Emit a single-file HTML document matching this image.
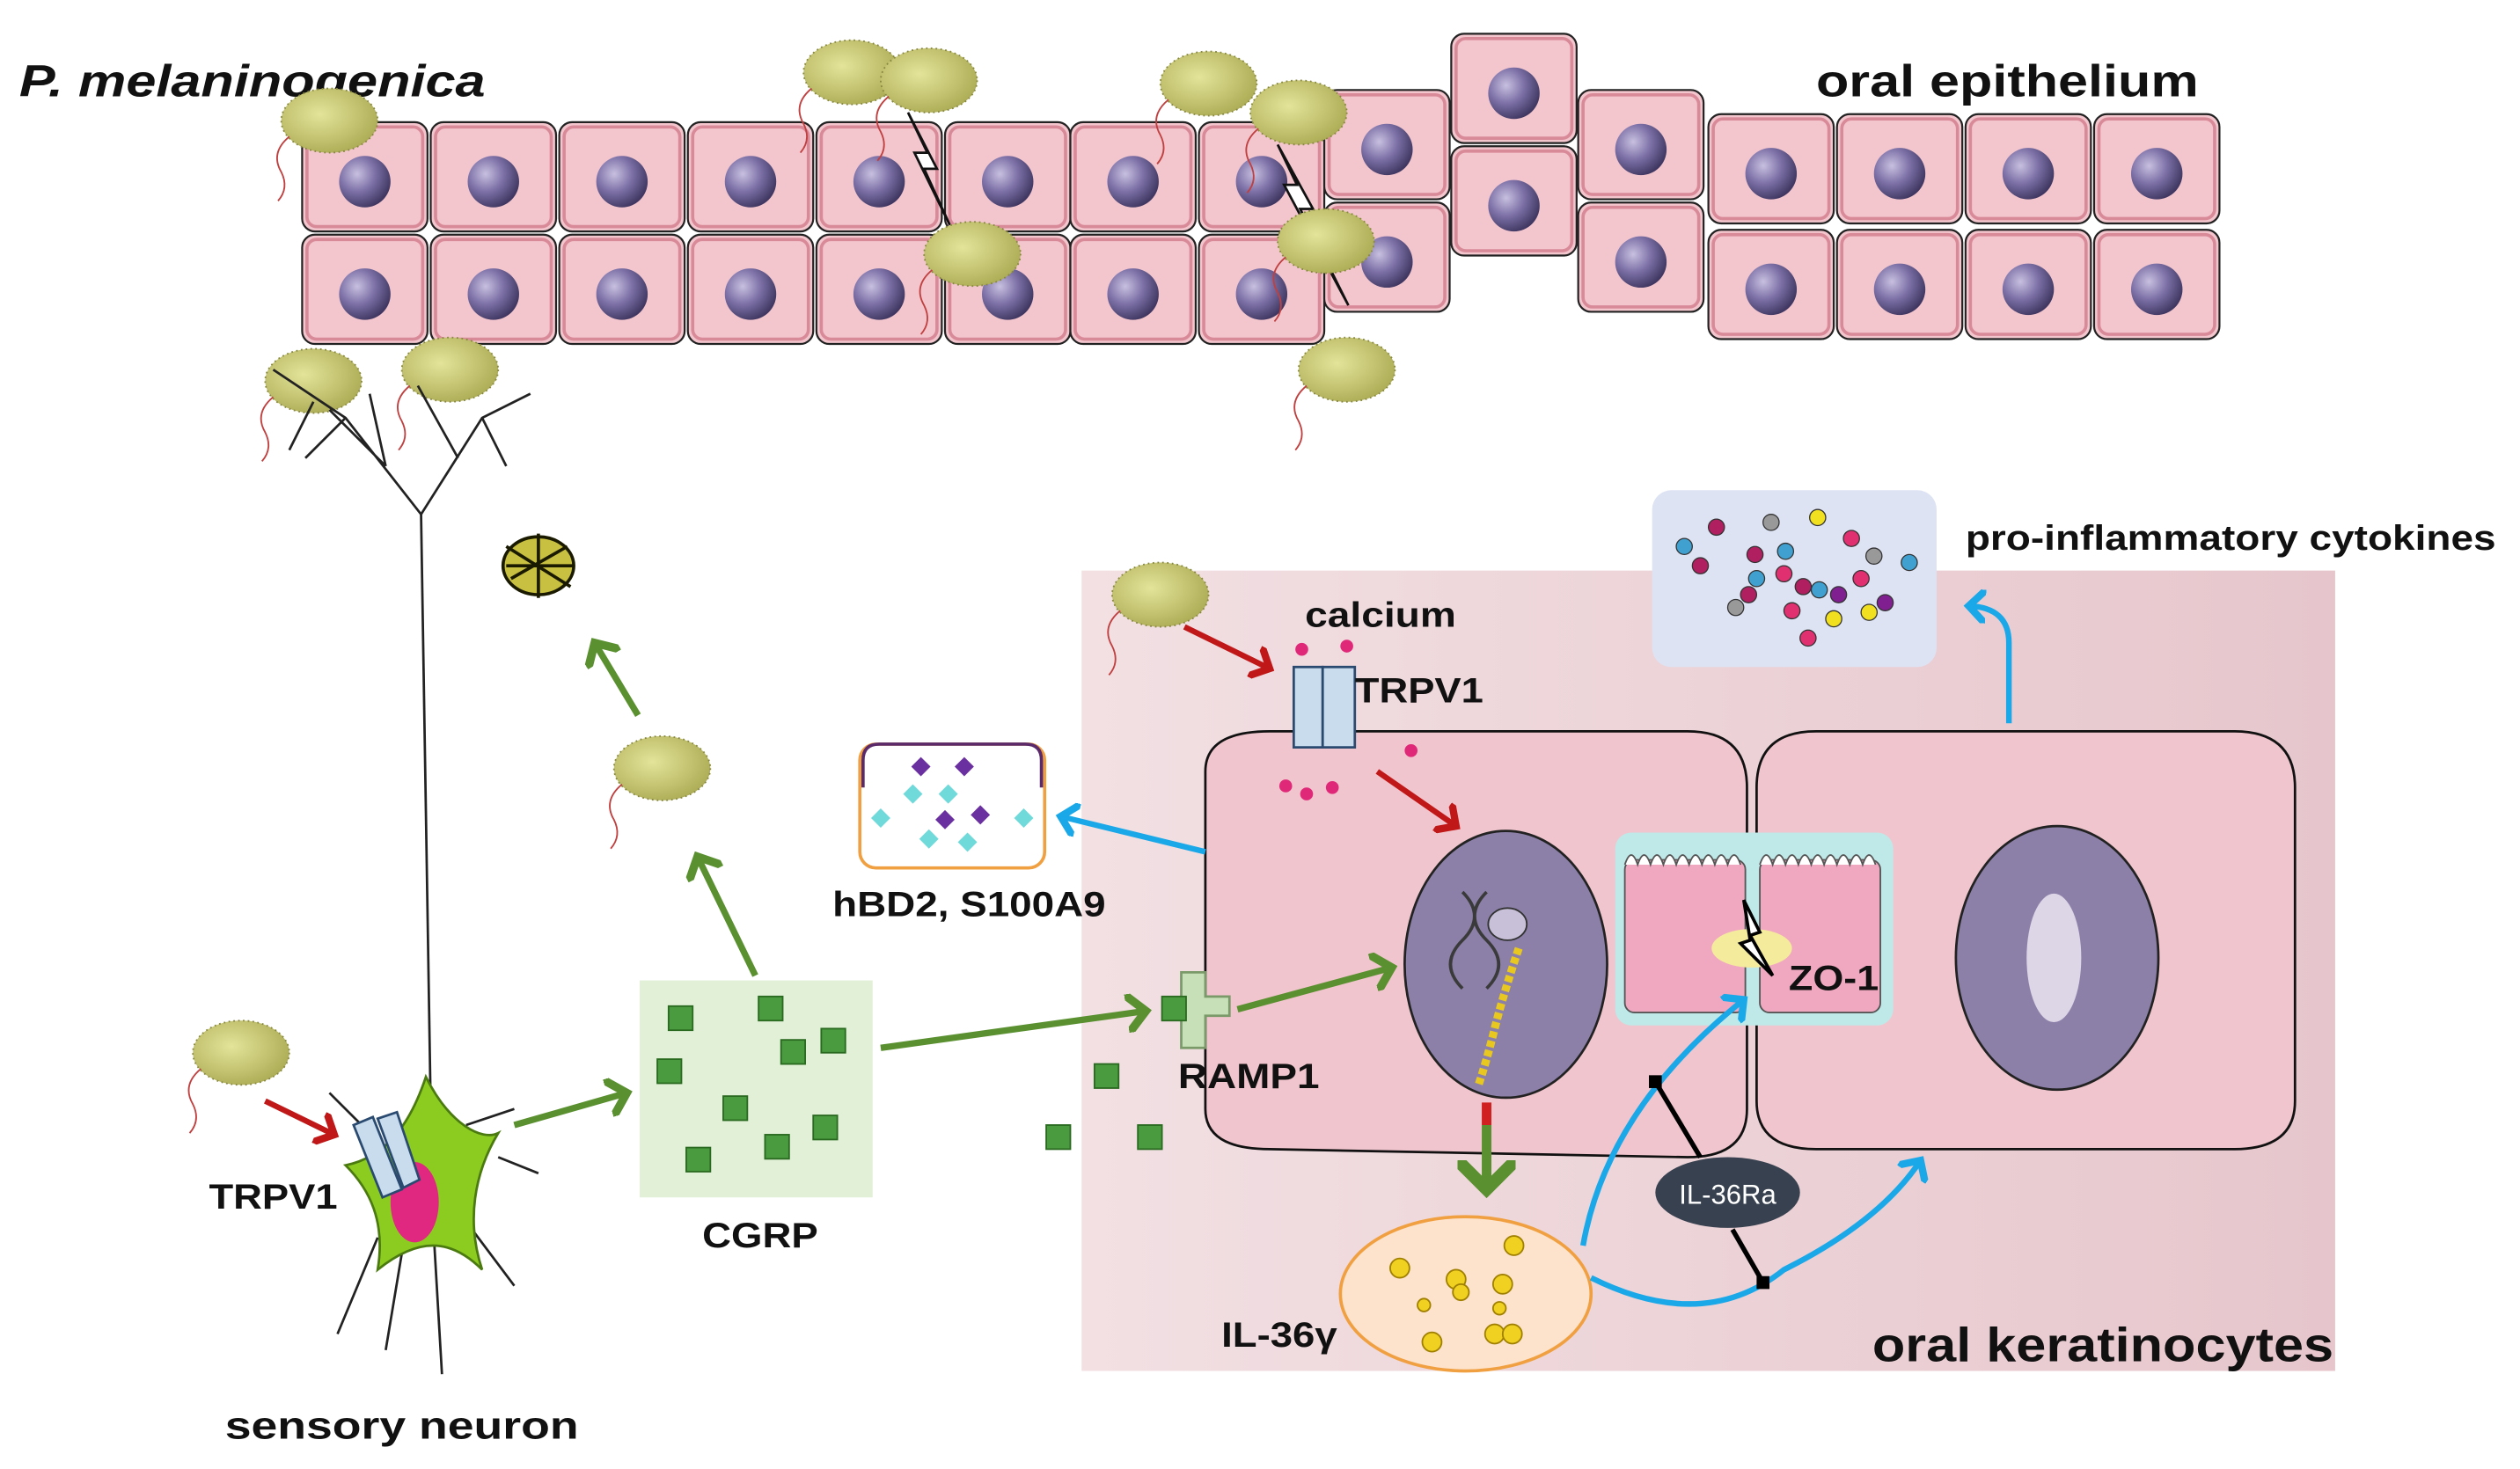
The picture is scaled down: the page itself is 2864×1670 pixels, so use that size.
<!DOCTYPE html>
<html><head><meta charset="utf-8"><style>
html,body{margin:0;padding:0;background:#fff;}
svg{display:block;}
text{font-family:"Liberation Sans",sans-serif;font-weight:bold;fill:#111;}
</style></head><body>
<svg width="2864" height="1670" viewBox="0 0 1568 914" preserveAspectRatio="none" xmlns="http://www.w3.org/2000/svg">
<defs>
<linearGradient id="bg" x1="0" x2="1" y1="0" y2="0"><stop offset="0" stop-color="#f2e0e3"/><stop offset="1" stop-color="#e6c6cc"/></linearGradient>
<radialGradient id="nuc" cx="0.35" cy="0.35" r="0.7"><stop offset="0" stop-color="#c8c0e0"/><stop offset="0.5" stop-color="#7c70a6"/><stop offset="1" stop-color="#3e3660"/></radialGradient>
<radialGradient id="bac" cx="0.4" cy="0.4" r="0.7"><stop offset="0" stop-color="#e4e49a"/><stop offset="1" stop-color="#a8a850"/></radialGradient>
<g id="cell"><rect x="1" y="1" width="78" height="68" rx="8" fill="#f3c6ce" stroke="#222" stroke-width="1.2"/><rect x="4" y="4" width="72" height="62" rx="6" fill="none" stroke="#d98a99" stroke-width="2"/><circle cx="40" cy="38" r="16" fill="url(#nuc)"/></g>
<g id="bact"><ellipse cx="0" cy="0" rx="30" ry="20" fill="url(#bac)" stroke="#888840" stroke-width="1" stroke-dasharray="1 2"/><path d="M-25 10 q-12 10 -5 22 q5 10 -2 18" fill="none" stroke="#c04040" stroke-width="1"/></g>
<g id="sq"><rect x="0" y="0" width="15" height="15" fill="#4a9a40" stroke="#2a6a20" stroke-width="1"/></g>
<marker id="ag" markerWidth="6" markerHeight="6" refX="3" refY="3" orient="auto" markerUnits="strokeWidth"><path d="M0,0 L3,3 L0,6" fill="none" stroke="#5a9030" stroke-width="1.3"/></marker>
<marker id="ar" markerWidth="6" markerHeight="6" refX="3" refY="3" orient="auto" markerUnits="strokeWidth"><path d="M0,0 L3,3 L0,6" fill="none" stroke="#c01818" stroke-width="1.3"/></marker>
<marker id="ab" markerWidth="6" markerHeight="6" refX="3" refY="3" orient="auto" markerUnits="strokeWidth"><path d="M0,0 L3,3 L0,6" fill="none" stroke="#1aa8e8" stroke-width="1.3"/></marker>
</defs>

<g>
<use href="#cell" x="187" y="75"/><use href="#cell" x="267" y="75"/><use href="#cell" x="347" y="75"/><use href="#cell" x="427" y="75"/><use href="#cell" x="507" y="75"/><use href="#cell" x="587" y="75"/><use href="#cell" x="665" y="75"/><use href="#cell" x="745" y="75"/>
<use href="#cell" x="187" y="145"/><use href="#cell" x="267" y="145"/><use href="#cell" x="347" y="145"/><use href="#cell" x="427" y="145"/><use href="#cell" x="507" y="145"/><use href="#cell" x="587" y="145"/><use href="#cell" x="665" y="145"/><use href="#cell" x="745" y="145"/>
<use href="#cell" x="823" y="55"/><use href="#cell" x="823" y="125"/>
<use href="#cell" x="902" y="20"/><use href="#cell" x="902" y="90"/>
<use href="#cell" x="981" y="55"/><use href="#cell" x="981" y="125"/>
<use href="#cell" x="1062" y="70"/><use href="#cell" x="1142" y="70"/><use href="#cell" x="1222" y="70"/><use href="#cell" x="1302" y="70"/>
<use href="#cell" x="1062" y="142"/><use href="#cell" x="1142" y="142"/><use href="#cell" x="1222" y="142"/><use href="#cell" x="1302" y="142"/>
</g>
<path d="M565 70 l12 25 l-8 0 l22 45 l-16 -35 l8 0 z" fill="#fff" stroke="#111" stroke-width="1.5"/>
<path d="M795 90 l12 25 l-8 0 l40 75 l-30 -60 l8 0 z" fill="#fff" stroke="#111" stroke-width="1.5"/>

<text x="12" y="60" font-size="28" font-style="italic" textLength="290" lengthAdjust="spacingAndGlyphs">P. melaninogenica</text>
<text x="1130" y="60" font-size="28" textLength="238" lengthAdjust="spacingAndGlyphs">oral epithelium</text>

<use href="#bact" x="205" y="75"/><use href="#bact" x="530" y="45"/><use href="#bact" x="578" y="50"/><use href="#bact" x="752" y="52"/><use href="#bact" x="808" y="70"/><use href="#bact" x="605" y="158"/><use href="#bact" x="825" y="150"/><use href="#bact" x="838" y="230"/><use href="#bact" x="195" y="237"/><use href="#bact" x="280" y="230"/><use href="#bact" x="412" y="478"/><use href="#bact" x="150" y="655"/>
<g stroke="#1a1a00" stroke-width="2"><ellipse cx="335" cy="352" rx="22" ry="18" fill="#c8c040"/><path d="M315 340 l40 25 M318 360 l35 -20 M335 332 l0 40 M315 352 l42 0"/></g>

<g fill="none" stroke="#222" stroke-width="1.5">
<path d="M262 320 L268 690"/>
<path d="M262 320 L215 260 L170 230 M215 260 L190 285 M240 290 L205 255 M262 320 L300 260 L330 245 M300 260 L315 290 M285 285 L260 240 M240 290 L230 245 M195 250 L180 280"/>
<path d="M235 770 L210 830 M250 780 L240 840 M270 770 L275 855 M290 760 L320 800 M225 700 L205 680 M290 700 L320 690 M310 720 L335 730"/>
</g>
<path d="M265 670 C280 700 300 710 310 705 C295 730 290 760 300 790 C280 770 260 770 235 790 C240 760 230 740 215 725 C240 720 255 700 265 670 Z" fill="#8ccc20" stroke="#4a7a10" stroke-width="1.5"/>
<ellipse cx="258" cy="748" rx="15" ry="25" fill="#e02880"/>
<g fill="#c8dcee" stroke="#2a4a70" stroke-width="1.5"><path d="M220 700 l12 -5 l18 45 l-12 5 z"/><path d="M235 696 l12 -4 l14 42 l-10 5 z"/></g>

<rect x="673" y="355" width="780" height="498" fill="url(#bg)"/>
<use href="#bact" x="722" y="370"/>
<path d="M750 480 Q750 455 790 455 L1050 455 Q1087 455 1087 490 L1087 690 Q1087 720 1050 720 L790 715 Q750 715 750 690 Z" fill="#f1c5cd" stroke="#111" stroke-width="1.5"/>
<path d="M1093 490 Q1093 455 1130 455 L1390 455 Q1428 455 1428 490 L1428 685 Q1428 715 1390 715 L1130 715 Q1093 715 1093 685 Z" fill="#f1c5cd" stroke="#111" stroke-width="1.5"/>
<ellipse cx="937" cy="600" rx="63" ry="83" fill="#8c80a8" stroke="#222" stroke-width="1.5"/>
<ellipse cx="1280" cy="596" rx="63" ry="82" fill="#8c80a8" stroke="#222" stroke-width="1.5"/>
<ellipse cx="1278" cy="596" rx="17" ry="40" fill="#ddd6e6"/>
<path d="M910 555 q15 15 0 30 q-15 15 0 30 M925 555 q-15 15 0 30 q15 15 0 30" fill="none" stroke="#3a3a3a" stroke-width="2"/>
<ellipse cx="938" cy="575" rx="12" ry="10" fill="#c8c0d8" stroke="#333"/>
<path d="M945 590 q-10 30 -15 50 q-5 20 -10 35" fill="none" stroke="#e8c820" stroke-width="5" stroke-dasharray="4 2"/>

<rect x="1005" y="518" width="173" height="120" rx="10" fill="#bfe8e8"/>
<rect x="1011" y="535" width="75" height="95" rx="6" fill="#f0a8c0" stroke="#555"/>
<rect x="1095" y="535" width="75" height="95" rx="6" fill="#f0a8c0" stroke="#555"/>
<path d="M1011 538 q4 -12 8 0 q4 -12 8 0 q4 -12 8 0 q4 -12 8 0 q4 -12 8 0 q4 -12 8 0 q4 -12 8 0 q4 -12 8 0 q4 -12 8 0 M1095 538 q4 -12 8 0 q4 -12 8 0 q4 -12 8 0 q4 -12 8 0 q4 -12 8 0 q4 -12 8 0 q4 -12 8 0 q4 -12 8 0 q4 -12 8 0" fill="#fff" stroke="#555"/>
<ellipse cx="1090" cy="590" rx="25" ry="12" fill="#f4ec9c"/>
<path d="M1085 560 l10 20 l-6 2 l14 25 l-20 -20 l6 -2 z" fill="#fff" stroke="#000" stroke-width="2"/>
<text x="1113" y="616" font-size="22" textLength="56" lengthAdjust="spacingAndGlyphs">ZO-1</text>

<rect x="1028" y="305" width="177" height="110" rx="12" fill="#dde3f3"/>
<g stroke="#333" stroke-width="0.7">
<circle cx="1048" cy="340" r="5" fill="#40a0d0"/><circle cx="1068" cy="328" r="5" fill="#b02060"/><circle cx="1058" cy="352" r="5" fill="#b02060"/><circle cx="1102" cy="325" r="5" fill="#999"/><circle cx="1131" cy="322" r="5" fill="#f0e020"/><circle cx="1092" cy="345" r="5" fill="#b02060"/><circle cx="1111" cy="343" r="5" fill="#40a0d0"/><circle cx="1152" cy="335" r="5" fill="#e03070"/><circle cx="1166" cy="346" r="5" fill="#999"/><circle cx="1188" cy="350" r="5" fill="#40a0d0"/><circle cx="1093" cy="360" r="5" fill="#40a0d0"/><circle cx="1110" cy="357" r="5" fill="#e03070"/><circle cx="1132" cy="367" r="5" fill="#40a0d0"/><circle cx="1144" cy="370" r="5" fill="#802090"/><circle cx="1158" cy="360" r="5" fill="#e03070"/><circle cx="1173" cy="375" r="5" fill="#802090"/><circle cx="1088" cy="370" r="5" fill="#b02060"/><circle cx="1080" cy="378" r="5" fill="#999"/><circle cx="1115" cy="380" r="5" fill="#e03070"/><circle cx="1141" cy="385" r="5" fill="#f0e020"/><circle cx="1163" cy="381" r="5" fill="#f0e020"/><circle cx="1125" cy="397" r="5" fill="#e03070"/><circle cx="1122" cy="365" r="5" fill="#b02060"/>
</g>
<text x="1223" y="342" font-size="22" textLength="330" lengthAdjust="spacingAndGlyphs">pro-inflammatory cytokines</text>

<rect x="535" y="463" width="115" height="77" rx="10" fill="#fff" stroke="#f0a040" stroke-width="2"/>
<path d="M537 490 L537 473 Q537 463 547 463 L638 463 Q648 463 648 473 L648 490" fill="none" stroke="#5a2a6a" stroke-width="2"/>
<g fill="#6a30a0"><path d="M573 471 l6 6 l-6 6 l-6 -6z"/><path d="M600 471 l6 6 l-6 6 l-6 -6z"/><path d="M610 501 l6 6 l-6 6 l-6 -6z"/><path d="M588 504 l6 6 l-6 6 l-6 -6z"/></g>
<g fill="#70dada"><path d="M568 488 l6 6 l-6 6 l-6 -6z"/><path d="M590 488 l6 6 l-6 6 l-6 -6z"/><path d="M548 503 l6 6 l-6 6 l-6 -6z"/><path d="M637 503 l6 6 l-6 6 l-6 -6z"/><path d="M578 516 l6 6 l-6 6 l-6 -6z"/><path d="M602 518 l6 6 l-6 6 l-6 -6z"/></g>
<text x="518" y="570" font-size="22" textLength="170" lengthAdjust="spacingAndGlyphs">hBD2, S100A9</text>

<rect x="398" y="610" width="145" height="135" fill="#e2f0d8"/>
<use href="#sq" x="416" y="626"/><use href="#sq" x="472" y="620"/><use href="#sq" x="486" y="647"/><use href="#sq" x="511" y="640"/><use href="#sq" x="409" y="659"/><use href="#sq" x="450" y="682"/><use href="#sq" x="506" y="694"/><use href="#sq" x="476" y="706"/><use href="#sq" x="427" y="714"/>
<use href="#sq" x="681" y="662"/><use href="#sq" x="651" y="700"/><use href="#sq" x="708" y="700"/>
<text x="437" y="776" font-size="22" textLength="72" lengthAdjust="spacingAndGlyphs">CGRP</text>

<path d="M735 605 h15 v15 h15 v12 h-15 v20 h-15 z" fill="#c8e0b8" stroke="#7a9a6a" stroke-width="1.5"/>
<use href="#sq" x="723" y="620"/>
<text x="733" y="677" font-size="22" textLength="88" lengthAdjust="spacingAndGlyphs">RAMP1</text>

<g fill="#c8dcee" stroke="#2a4a70" stroke-width="1.5"><path d="M805 415 h18 v50 h-18 z"/><path d="M823 415 h20 v50 h-20 z"/></g>
<g fill="#e02878"><circle cx="810" cy="404" r="4"/><circle cx="838" cy="402" r="4"/><circle cx="800" cy="489" r="4"/><circle cx="813" cy="494" r="4"/><circle cx="829" cy="490" r="4"/><circle cx="878" cy="467" r="4"/></g>
<text x="812" y="390" font-size="22" textLength="94" lengthAdjust="spacingAndGlyphs">calcium</text>
<text x="843" y="437" font-size="22" textLength="80" lengthAdjust="spacingAndGlyphs">TRPV1</text>
<text x="130" y="752" font-size="22" textLength="80" lengthAdjust="spacingAndGlyphs">TRPV1</text>

<ellipse cx="912" cy="805" rx="78" ry="48" fill="#fde2cc" stroke="#f0a040" stroke-width="2"/>
<g fill="#f0d020" stroke="#a08000" stroke-width="1"><circle cx="871" cy="789" r="6"/><circle cx="942" cy="775" r="6"/><circle cx="906" cy="796" r="6"/><circle cx="935" cy="799" r="6"/><circle cx="909" cy="804" r="5"/><circle cx="886" cy="812" r="4"/><circle cx="933" cy="814" r="4"/><circle cx="891" cy="835" r="6"/><circle cx="930" cy="830" r="6"/><circle cx="941" cy="830" r="6"/></g>
<text x="760" y="838" font-size="22" textLength="72" lengthAdjust="spacingAndGlyphs">IL-36γ</text>
<ellipse cx="1075" cy="742" rx="45" ry="22" fill="#38414f"/>
<text x="1075" y="749" font-size="17" text-anchor="middle" style="fill:#fff;font-weight:normal">IL-36Ra</text>

<text x="1165" y="847" font-size="30" textLength="287" lengthAdjust="spacingAndGlyphs">oral keratinocytes</text>
<text x="140" y="895" font-size="24" textLength="220" lengthAdjust="spacingAndGlyphs">sensory neuron</text>

<g fill="none" stroke="#5a9030" stroke-width="4" marker-end="url(#ag)">
<path d="M320 700 L390 680"/><path d="M470 607 L434 533"/><path d="M397 445 L370 400"/><path d="M548 652 L713 629"/><path d="M770 628 L866 602"/>
</g>
<path d="M925 686 L925 700" stroke="#d02020" stroke-width="6"/>
<path d="M925 700 L925 740" stroke="#5a9030" stroke-width="6" marker-end="url(#ag)" fill="none"/>
<g fill="none" stroke="#c01818" stroke-width="3.5" marker-end="url(#ar)">
<path d="M165 685 L208 706"/><path d="M737 390 L790 416"/><path d="M857 480 L906 514"/>
</g>
<g fill="none" stroke="#1aa8e8" stroke-width="3.5" marker-end="url(#ab)">
<path d="M750 530 L660 508"/>
<path d="M1250 450 L1250 400 Q1250 378 1225 377"/>
<path d="M985 775 Q1000 690 1085 622"/>
<path d="M990 795 Q1060 830 1110 790 Q1170 760 1195 722"/>
</g>
<g stroke="#000" stroke-width="3"><path d="M1030 673 L1058 720"/><path d="M1078 765 L1097 798"/></g>
<rect x="1026" y="669" width="8" height="8" fill="#000"/><rect x="1093" y="794" width="8" height="8" fill="#000"/>
</svg>
</body></html>
